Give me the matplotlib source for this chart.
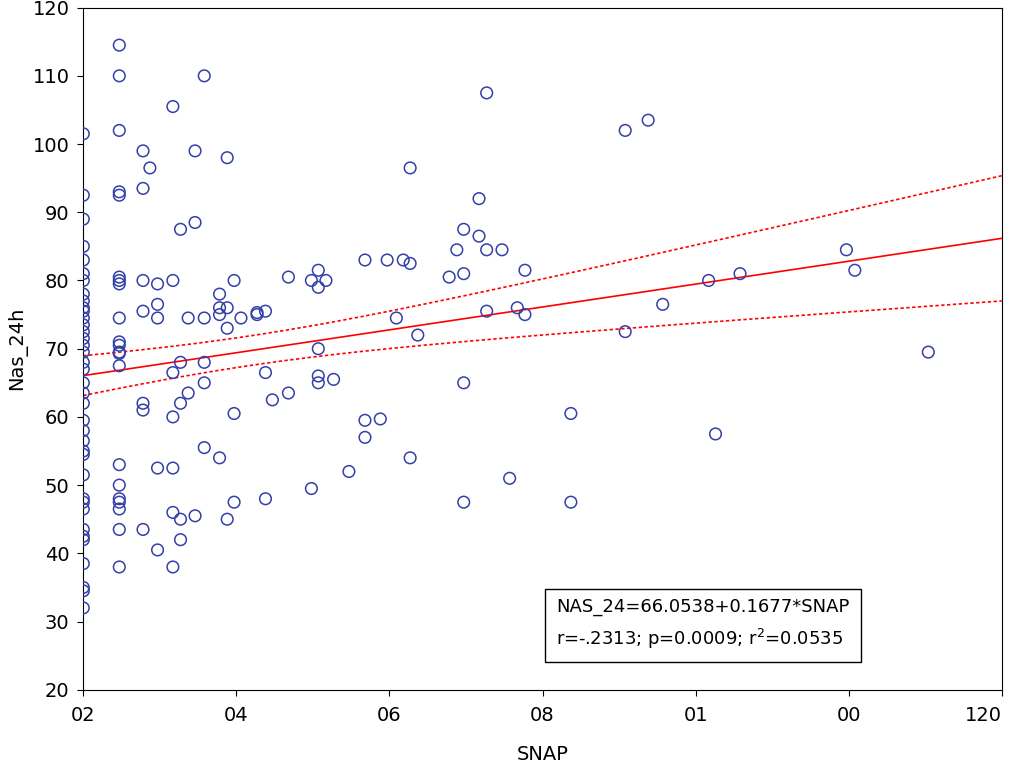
import numpy as np
import matplotlib
matplotlib.use("Agg")
import matplotlib.pyplot as plt

cols = {
 0: [101.5,92.5,89,85,83,81,80,78,77,76,75.5,74.5,73.5,72.5,71.5,70.5,69.5,68,67,65,63.5,62,59.5,58,56.5,55,54.5,51.5,48,47.5,46.5,43.5,42.5,42,38.5,35,34.5,32],
 4.7: [114.5,110,102,93,92.5,80.5,80,79.5,74.5,71,70.5,69.5,69.3,67.5,53,50,48,47.5,46.5,43.5,38],
 7.8: [99,93.5,80,75.5,62,61,43.5], 8.7: [96.5], 9.7: [79.5,76.5,74.5,52.5,40.5],
 11.7: [105.5,80,66.5,60,52.5,46,38], 12.7: [87.5,68,62,45,42], 13.7: [74.5,63.5],
 14.6: [99,88.5,45.5], 15.8: [110,74.5,68,65,55.5], 17.8: [78,76,75,54],
 18.8: [98,76,73,45], 19.7: [80,60.5,47.5], 20.6: [74.5], 22.7: [75,75.3],
 23.8: [75.5,66.5,48], 24.7: [62.5], 26.8: [80.5,63.5], 29.8: [80,49.5],
 30.7: [81.5,79,70,66,65], 31.7: [80], 32.7: [65.5], 34.7: [52], 36.8: [83,59.5,57],
 38.8: [59.7], 39.7: [83], 40.9: [74.5], 41.8: [83], 42.7: [82.5,96.5,54], 43.7: [72],
 47.8: [80.5], 48.8: [84.5], 49.7: [87.5,81,65,47.5], 51.7: [92,86.5], 52.7: [107.5,84.5,75.5],
 54.7: [84.5], 55.7: [51], 56.7: [76], 57.7: [81.5,75], 63.7: [60.5,47.5], 70.8: [102,72.5],
 73.8: [103.5], 75.7: [76.5], 81.7: [80], 82.6: [57.5], 85.8: [81], 99.7: [84.5], 100.8: [81.5],
 110.4: [69.5],
}
snap = np.array([k for k, v in cols.items() for _ in v])
nas = np.array([y for v in cols.values() for y in v])

intercept, slope = 66.0538, 0.1677
x_ticks = [0, 20, 40, 60, 80, 100, 120]
x_labels = ["02", "04", "06", "08", "01", "00", "120"]
y_ticks = [20, 30, 40, 50, 60, 70, 80, 90, 100, 110, 120]

fig = plt.figure(figsize=(10.16, 7.63), dpi=100)
ax = fig.add_axes([0.082, 0.096, 0.904, 0.894])
ax.scatter(snap, nas, s=70, facecolors="none", edgecolors="#3340a8", linewidths=1.1, zorder=3)

xs = np.linspace(0, 120, 200)
n = len(snap)
fit = intercept + slope * xs
resid = nas - (intercept + slope * snap)
s = np.sqrt(np.sum(resid**2) / (n - 2))
xm = snap.mean(); sxx = np.sum((snap - xm)**2)
hw = 1.6 * s * np.sqrt(1/n + (xs - xm)**2 / sxx)
ax.plot(xs, fit, color="red", lw=1.2)
ax.plot(xs, fit + hw, color="red", lw=1.2, ls=(0, (2, 1.5)))
ax.plot(xs, fit - hw, color="red", lw=1.2, ls=(0, (2, 1.5)))

ax.set_xlim(0, 120); ax.set_ylim(20, 120)
ax.set_xticks(x_ticks); ax.set_xticklabels(x_labels)
ax.set_yticks(y_ticks)
ax.tick_params(labelsize=14, direction="out", length=4)
ax.tick_params(axis="x", pad=8)
ax.tick_params(axis="y", pad=6)
labs = ax.get_xticklabels()
labs[-1].set_horizontalalignment("right")
ax.set_xlabel("SNAP", fontsize=14, labelpad=14)
ax.set_ylabel("Nas_24h", fontsize=14)
ax.text(61.8, 26.5, "NAS_24=66.0538+0.1677*SNAP\nr=-.2313; p=0.0009; r$^2$=0.0535",
        fontsize=13, linespacing=1.6,
        bbox=dict(boxstyle="square,pad=0.6", fc="white", ec="black", lw=1))
fig.savefig("out.png", dpi=100)
